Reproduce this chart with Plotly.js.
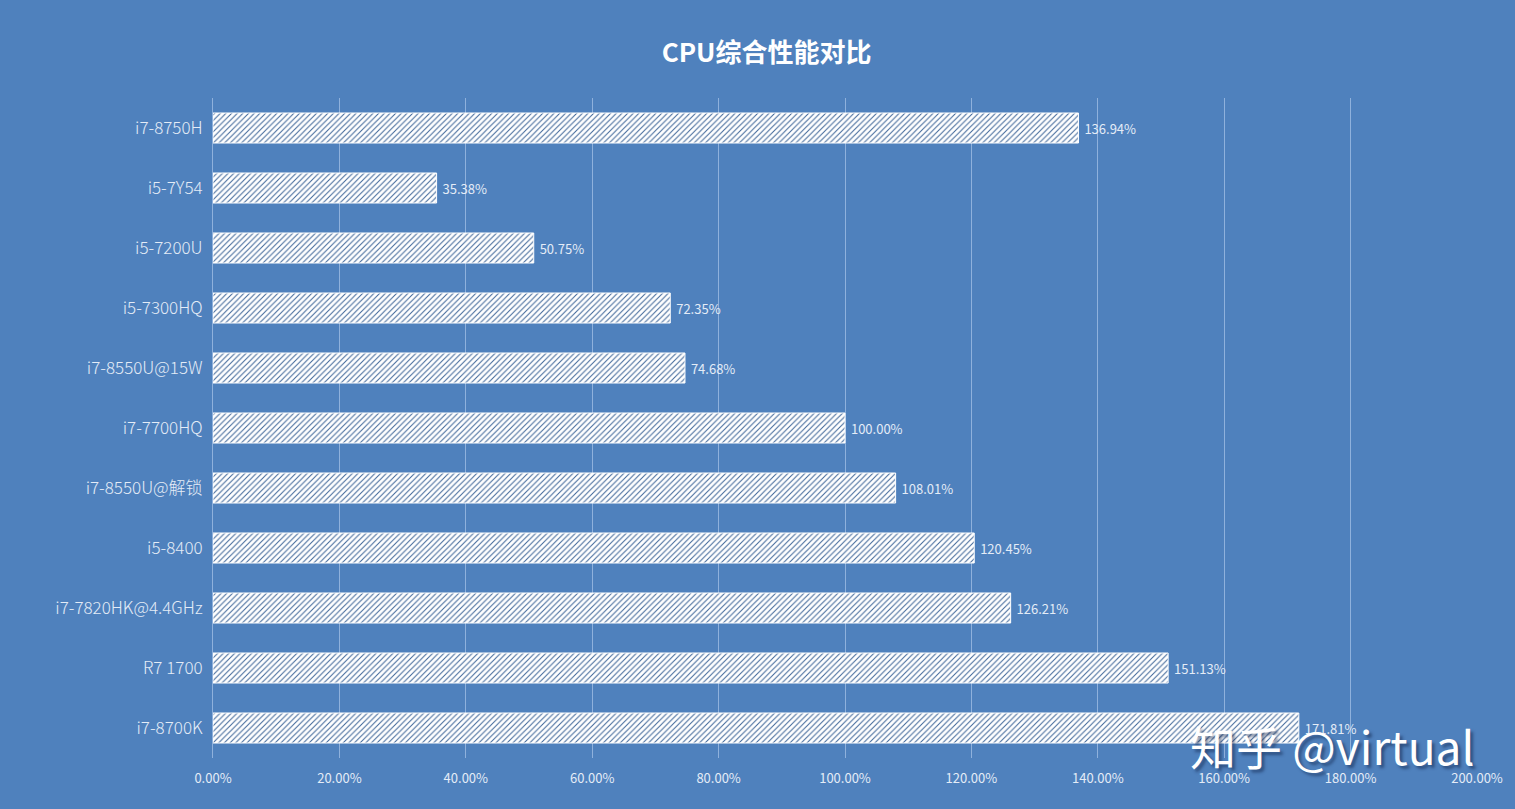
<!DOCTYPE html>
<html>
<head>
<meta charset="utf-8">
<script src="https://cdn.plot.ly/plotly-3.0.1.min.js"></script>
<style>
  html, body { margin: 0; padding: 0; background: #4F81BD; }
  #chart { width: 1515px; height: 809px; }
</style>
</head>
<body>
<div id="chart"></div>
<script>
// 数据
const cpuNames = [
    'i7-8750H', 'i5-7Y54', 'i5-7200U', 'i5-7300HQ', 'i7-8550U@15W',
    'i7-7700HQ', 'i7-8550U@解锁', 'i5-8400', 'i7-7820HK@4.4GHz', 'R7 1700', 'i7-8700K'
];
const scores = [136.94, 35.38, 50.75, 72.35, 74.68, 100.00, 108.01, 120.45, 126.21, 151.13, 171.81];
const xTicks = [0, 20, 40, 60, 80, 100, 120, 140, 160, 180, 200];

const bg = '#4F81BD';
const labelColor = '#E4ECF7';
const font = '"Noto Sans CJK SC", "Noto Sans", sans-serif';

const trace = {
    type: 'bar',
    orientation: 'h',
    y: cpuNames,
    x: scores,
    width: 0.5,
    text: scores.map(v => '\u00a0' + v.toFixed(2) + '%'),
    textposition: 'outside',
    cliponaxis: false,
    textfont: { family: font, size: 13, color: labelColor },
    marker: {
        color: '#FFFFFF',
        line: { color: '#FFFFFF', width: 1 },
        pattern: { shape: '/', fgcolor: '#3E6698', bgcolor: '#FFFFFF', size: 4, solidity: 0.25 }
    },
    hoverinfo: 'none'
};

const layout = {
    width: 1515,
    height: 809,
    paper_bgcolor: bg,
    plot_bgcolor: bg,
    margin: { l: 213, r: 38, t: 98, b: 51 },
    showlegend: false,
    title: {
        text: '<b>CPU综合性能对比</b>',
        x: 0.506,
        xanchor: 'center',
        y: 0.935,
        yanchor: 'middle',
        font: { family: font, size: 26, color: '#FFFFFF' }
    },
    xaxis: {
        range: [0, 200],
        tickvals: xTicks,
        ticktext: xTicks.map(v => v.toFixed(2) + '%'),
        showgrid: true,
        gridcolor: '#8FB1DC',
        gridwidth: 1,
        zeroline: false,
        showline: false,
        ticks: 'outside',
        ticklen: 8,
        tickcolor: 'rgba(0,0,0,0)',
        tickfont: { family: font, size: 13, color: labelColor },
        fixedrange: true
    },
    yaxis: {
        autorange: 'reversed',
        showgrid: false,
        zeroline: false,
        showline: true,
        linecolor: '#8FB1DC',
        linewidth: 1,
        ticks: 'outside',
        ticklen: 6,
        tickcolor: 'rgba(0,0,0,0)',
        tickfont: { family: font, size: 17, color: labelColor, weight: 300 },
        fixedrange: true
    },
    annotations: [{
        text: '知乎 @virtual',
        xref: 'paper', yref: 'paper',
        x: 1.0, y: 0.02,
        xanchor: 'right', yanchor: 'middle',
        showarrow: false,
        font: { family: font, size: 46, color: '#FFFFFF', shadow: '3px 3px 3px rgba(20,40,80,0.55)' }
    }]
};

Plotly.newPlot('chart', [trace], layout, { displayModeBar: false, staticPlot: true });
</script>
</body>
</html>
